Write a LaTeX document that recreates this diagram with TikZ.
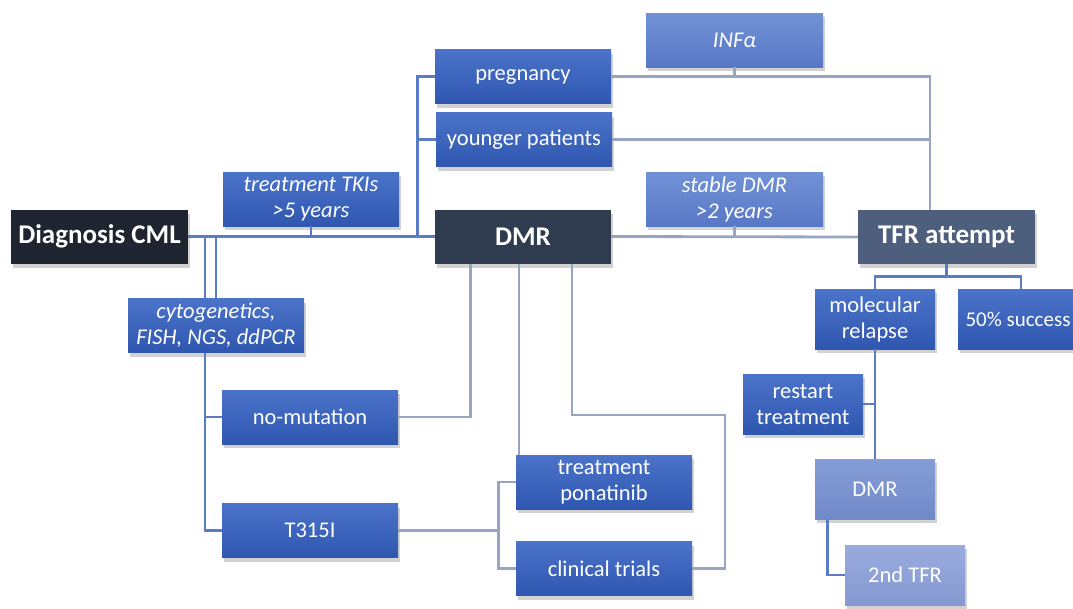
\documentclass[tikz,border=0pt]{standalone}
\usepackage{fontspec}
\setmainfont{Carlito}
\usetikzlibrary{calc,shadows}
\definecolor{darkA}{HTML}{1E2430}
\definecolor{darkB}{HTML}{2F3B4F}
\definecolor{slateC}{HTML}{4E5F7E}
\definecolor{blueTop}{HTML}{4B73C9}
\definecolor{blueBot}{HTML}{2F57B0}
\definecolor{lightTop}{HTML}{7191D6}
\definecolor{lightBot}{HTML}{5878C6}
\definecolor{paleTop}{HTML}{859DD6}
\definecolor{paleBot}{HTML}{7189C8}
\definecolor{paleTop2}{HTML}{9AACDE}
\definecolor{paleBot2}{HTML}{8598D0}
\definecolor{lineBlue}{HTML}{5A7BC6}
\definecolor{lineGray}{HTML}{97A5C2}
\tikzset{base box/.style={rectangle, inner sep=0, text=white, align=center,
    minimum width=176pt, minimum height=54pt, font=\fontsize{22.5}{26}\selectfont,
    drop shadow={shadow xshift=2pt, shadow yshift=-4pt, opacity=.35}},
  blue box/.style={base box, top color=blueTop, bottom color=blueBot},
  light box/.style={base box, top color=lightTop, bottom color=lightBot},
  dark box/.style={base box, fill=#1, font=\fontsize{27}{30}\selectfont\bfseries},
  small box/.style={minimum width=120pt, minimum height=60pt},
  slanted/.style={font=\fontsize{22.5}{26}\selectfont\itshape},
  link/.style={draw=lineBlue, line width=2.8pt},
  link gray/.style={draw=lineGray, line width=2.8pt}}

\begin{document}
\begin{tikzpicture}[x=1pt,y=-1pt]
\useasboundingbox[fill=white] (0,0) rectangle (1073,608);

\coordinate (tj) at (930,237);
\coordinate (bend) at (725,415);

\node[dark box=darkA, minimum width=177pt] (diag) at (99.5,236.5) {Diagnosis CML};
\node[dark box=darkB] (dmr) at (523,236.5) {DMR};
\node[dark box=slateC, minimum width=177pt] (tfr) at (946.5,237) {TFR attempt};

\draw[link] (diag.east) -- (dmr.west);
\draw[link gray] (dmr.east) -- (tfr.west);

\node[blue box, slanted] (tki) at (311,199) {treatment TKIs\\>5 years};
\node[blue box] (preg) at (523,76.5) {pregnancy};
\node[blue box] (young) at (524,139.5) {younger patients};
\node[light box, slanted, minimum width=177pt] (infa) at (734.5,40) {INFα};
\node[light box, slanted, minimum width=177pt] (stable) at (734.5,199) {stable DMR\\>2 years};
\node[blue box, slanted] (cyto) at (216,325.5) {cytogenetics,\\FISH, NGS, ddPCR};
\node[blue box] (nomut) at (310,417) {no-mutation};
\node[blue box] (t315) at (310,530.5) {T315I};
\node[blue box] (pona) at (604,482) {treatment\\ponatinib};
\node[blue box] (clin) at (604,568.5) {clinical trials};
\node[blue box, small box] (molrel) at (875,319) {molecular\\relapse};
\node[blue box, small box, font=\fontsize{21}{26}\selectfont] (succ) at (1018,319) {50\% success};
\node[blue box, small box] (restart) at (803,404) {restart\\treatment};
\node[base box, small box, top color=paleTop, bottom color=paleBot] (dmr2) at (875,489) {DMR};
\node[base box, small box, top color=paleTop2, bottom color=paleBot2] (tfr2) at (905,575) {2nd TFR};

% left half
\draw[link] (tki.south) -- (tki.south |- diag.east);
\draw[link] (preg.west) -- ++(-17,0) |- (dmr.west);
\draw[link] (young.west) -- ++(-18,0);
\draw[link] ([xshift=-11pt]cyto.north) -- ([xshift=-11pt]cyto.north |- diag.east);
\draw[link] (cyto.north) -- (cyto.north |- diag.east);
\draw[link] ([xshift=-11pt]cyto.south) |- (nomut.west);
\draw[link] ([xshift=-11pt]cyto.south) |- (t315.west);
\draw[link gray] (nomut.east) -| ([xshift=36pt]dmr.south west);
\draw[link gray] ([xshift=-4pt]dmr.south) -- ([xshift=-4pt]dmr.south |- pona.north);
\draw[link gray] ([xshift=49pt]dmr.south) |- (bend) |- (clin.east);
\draw[link gray] (t315.east) -- ++(100,0) |- (pona.west);
\draw[link gray] (t315.east) -- ++(100,0) |- (clin.west);

% right half
\draw[link gray] (stable.south) -- (stable.south |- dmr.east);
\draw[link gray] (preg.east) -| (tj |- tfr.north);
\draw[link gray] (young.east) -- (young.east -| tj);
\draw[link gray] (infa.south) -- (infa.south |- preg.east);
\draw[link] (tfr.south) -- ++(0,12) -| ([xshift=3pt]succ.north);
\draw[link] (tfr.south) -- ++(0,12) -| (molrel.north);
\draw[link] (molrel.south) -- (dmr2.north);
\draw[link] (restart.east) -- (restart.east -| molrel.south);
\draw[link] ([xshift=13pt]dmr2.south west) |- (tfr2.west);

\end{tikzpicture}
\end{document}
